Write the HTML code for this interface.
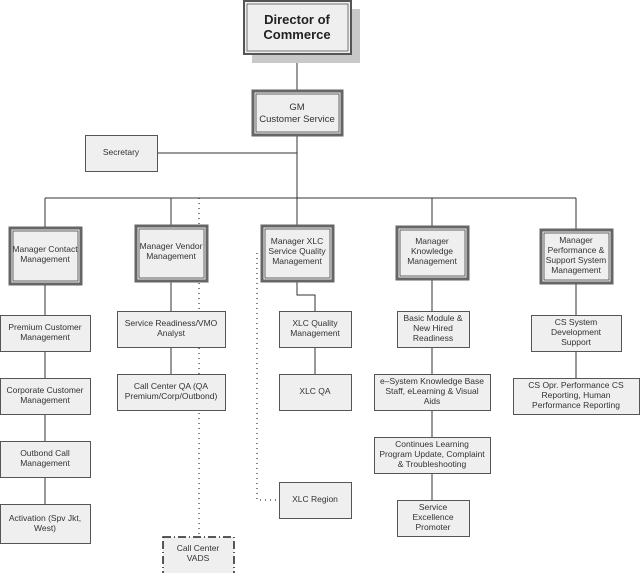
<!DOCTYPE html>
<html><head><meta charset="utf-8"><style>
html,body{margin:0;padding:0;background:#fff;}
svg{display:block;}
text{font-family:"Liberation Sans",sans-serif;font-size:8.5px;fill:#333;text-anchor:middle;}
.b{fill:#efefef;stroke:#555;stroke-width:1;}
.m{fill:#efefef;stroke:#666;stroke-width:3;}
.mi{fill:none;stroke:#444;stroke-width:0.8;}
.l{stroke:#333;stroke-width:1;fill:none;}
.d{stroke:#333;stroke-width:1.2;fill:none;stroke-dasharray:1 4;}
</style></head><body>
<svg width="640" height="573" viewBox="0 0 640 573" xmlns="http://www.w3.org/2000/svg">
<!-- connectors -->
<line class="l" x1="297" y1="54" x2="297" y2="90"/>
<line class="l" x1="297" y1="135" x2="297" y2="198"/>
<line class="l" x1="158" y1="153" x2="297" y2="153"/>
<line class="l" x1="45" y1="198" x2="576" y2="198"/>
<line class="l" x1="45" y1="198" x2="45" y2="227"/>
<line class="l" x1="171" y1="198" x2="171" y2="225"/>
<line class="l" x1="297" y1="198" x2="297" y2="225"/>
<line class="l" x1="432" y1="198" x2="432" y2="226"/>
<line class="l" x1="576" y1="198" x2="576" y2="229"/>
<line class="l" x1="45" y1="284" x2="45" y2="504"/>
<line class="l" x1="171" y1="281" x2="171" y2="374"/>
<polyline class="l" points="297,281 297,295 315,295 315,311"/>
<line class="l" x1="315" y1="347" x2="315" y2="374"/>
<line class="l" x1="432" y1="279" x2="432" y2="500"/>
<line class="l" x1="576" y1="283" x2="576" y2="378"/>
<line class="d" x1="199" y1="198" x2="199" y2="536"/>
<polyline class="d" points="262,253 257,253 257,500 279,500"/>
<!-- director -->
<rect x="252" y="9" width="108" height="54" fill="#c8c8c8"/>
<rect x="244" y="1" width="107" height="53" fill="#efefef" stroke="#555" stroke-width="2"/>
<rect x="247" y="4" width="101" height="47" fill="none" stroke="#555" stroke-width="0.8"/>
<text x="297" y="24" style="font-size:13px;font-weight:bold;fill:#222">Director of</text>
<text x="297" y="39" style="font-size:13px;font-weight:bold;fill:#222">Commerce</text>
<!-- GM -->
<rect class="m" x="253" y="91" width="89" height="44"/><rect class="mi" x="256" y="94" width="83" height="38"/>
<text x="297" y="110" style="font-size:9.5px">GM</text>
<text x="297" y="122" style="font-size:9.5px">Customer Service</text>
<rect class="b" x="85.5" y="135.5" width="72" height="36"/>
<text x="121" y="155">Secretary</text>
<!-- managers -->
<rect class="m" x="10" y="228" width="71" height="56"/><rect class="mi" x="13" y="231" width="65" height="50"/>
<text x="45" y="252">Manager Contact</text><text x="45" y="262">Management</text>
<rect class="m" x="136" y="226" width="71" height="55"/><rect class="mi" x="139" y="229" width="65" height="49"/>
<text x="171" y="249">Manager Vendor</text><text x="171" y="259">Management</text>
<rect class="m" x="262" y="226" width="71" height="55"/><rect class="mi" x="265" y="229" width="65" height="49"/>
<text x="297" y="244">Manager XLC</text><text x="297" y="254">Service Quality</text><text x="297" y="264">Management</text>
<rect class="m" x="397" y="227" width="71" height="52"/><rect class="mi" x="400" y="230" width="65" height="46"/>
<text x="432" y="244">Manager</text><text x="432" y="254">Knowledge</text><text x="432" y="264">Management</text>
<rect class="m" x="541" y="230" width="71" height="53"/><rect class="mi" x="544" y="233" width="65" height="47"/>
<text x="576" y="243">Manager</text><text x="576" y="253">Performance &amp;</text><text x="576" y="263">Support System</text><text x="576" y="273">Management</text>
<!-- col 1 -->
<rect class="b" x="0.5" y="315.5" width="90" height="36"/><text x="45" y="330">Premium Customer</text><text x="45" y="340">Management</text>
<rect class="b" x="0.5" y="378.5" width="90" height="36"/><text x="45" y="393">Corporate Customer</text><text x="45" y="403">Management</text>
<rect class="b" x="0.5" y="441.5" width="90" height="36"/><text x="45" y="456">Outbond Call</text><text x="45" y="466">Management</text>
<rect class="b" x="0.5" y="504.5" width="90" height="39"/><text x="45" y="521">Activation (Spv Jkt,</text><text x="45" y="531">West)</text>
<!-- col 2 -->
<rect class="b" x="117.5" y="311.5" width="108" height="36"/><text x="171" y="326">Service Readiness/VMO</text><text x="171" y="336">Analyst</text>
<rect class="b" x="117.5" y="374.5" width="108" height="36"/><text x="171" y="389">Call Center QA (QA</text><text x="171" y="399">Premium/Corp/Outbond)</text>
<rect x="163" y="537" width="71" height="40" fill="#efefef" stroke="#222" stroke-width="1.5" stroke-dasharray="8 3 1 3"/>
<text x="198" y="551">Call Center</text><text x="198" y="561">VADS</text>
<!-- col 3 -->
<rect class="b" x="279.5" y="311.5" width="72" height="36"/><text x="315" y="326">XLC Quality</text><text x="315" y="336">Management</text>
<rect class="b" x="279.5" y="374.5" width="72" height="36"/><text x="315" y="394">XLC QA</text>
<rect class="b" x="279.5" y="482.5" width="72" height="36"/><text x="315" y="502">XLC Region</text>
<!-- col 4 -->
<rect class="b" x="397.5" y="311.5" width="72" height="36"/><text x="433" y="321">Basic Module &amp;</text><text x="433" y="331">New Hired</text><text x="433" y="341">Readiness</text>
<rect class="b" x="374.5" y="374.5" width="116" height="36"/><text x="432" y="384">e–System Knowledge Base</text><text x="432" y="394">Staff, eLearning &amp; Visual</text><text x="432" y="404">Aids</text>
<rect class="b" x="374.5" y="437.5" width="116" height="36"/><text x="432" y="447">Continues Learning</text><text x="432" y="457">Program Update, Complaint</text><text x="432" y="467">&amp; Troubleshooting</text>
<rect class="b" x="397.5" y="500.5" width="72" height="36"/><text x="433" y="510">Service</text><text x="433" y="520">Excellence</text><text x="433" y="530">Promoter</text>
<!-- col 5 -->
<rect class="b" x="531.5" y="315.5" width="90" height="36"/><text x="576" y="325">CS System</text><text x="576" y="335">Development</text><text x="576" y="345">Support</text>
<rect class="b" x="513.5" y="378.5" width="126" height="36"/><text x="576" y="388">CS Opr. Performance CS</text><text x="576" y="398">Reporting, Human</text><text x="576" y="408">Performance Reporting</text>
</svg>
</body></html>
